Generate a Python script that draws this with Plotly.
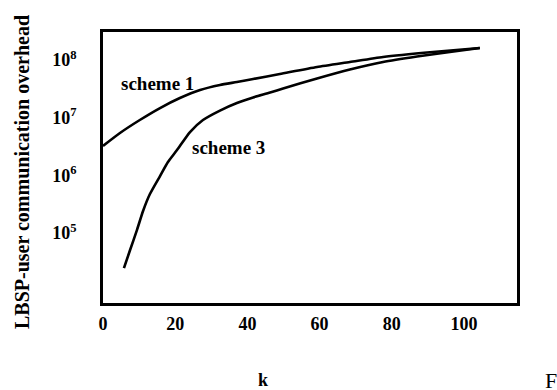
import plotly.graph_objects as go

# Data
k_scheme1 = [0, 4.7, 10.2, 15.8, 21.3, 26.9, 32.4, 37.1, 41.6, 49.0, 59.3, 68.4, 77.6, 91.4, 104.4]
v_scheme1 = [3.24e6, 5.43e6, 9.12e6, 1.47e7, 2.19e7, 3.02e7, 3.69e7, 4.16e7, 4.69e7,
             5.72e7, 7.57e7, 9.23e7, 1.13e8, 1.38e8, 1.61e8]

k_scheme3 = [5.8, 7.5, 9.4, 11.1, 13.0, 15.8, 18.0, 20.5, 24.1, 27.7, 32.4, 37.1, 41.6,
             46.3, 49.9, 59.3, 68.4, 77.6, 87.0, 96.1, 104.4]
v_scheme3 = [2.48e4, 5.1e4, 1.13e5, 2.42e5, 4.76e5, 9.77e5, 1.71e6, 2.75e6, 5.65e6, 9.12e6,
             1.33e7, 1.80e7, 2.24e7, 2.73e7, 3.21e7, 4.78e7, 6.84e7, 9.23e7, 1.15e8, 1.38e8, 1.61e8]

x_ticks = [0, 20, 40, 60, 80, 100]
y_ticks = [1e5, 1e6, 1e7, 1e8]
y_tick_text = ["10<sup>5</sup>", "10<sup>6</sup>", "10<sup>7</sup>", "10<sup>8</sup>"]

serif = "Liberation Serif"
tick_font = dict(family=serif, size=18, color="black", weight="bold")
label_font = dict(family=serif, size=19, color="black", weight="bold")

fig = go.Figure()
fig.add_trace(go.Scatter(x=k_scheme1, y=v_scheme1, mode="lines",
                         line=dict(color="black", width=2.6, shape="spline", smoothing=0.6),
                         name="scheme 1", showlegend=False))
fig.add_trace(go.Scatter(x=k_scheme3, y=v_scheme3, mode="lines",
                         line=dict(color="black", width=2.6, shape="spline", smoothing=0.6),
                         name="scheme 3", showlegend=False))

fig.update_layout(
    width=557, height=390,
    margin=dict(l=103, r=40, t=32, b=87),
    paper_bgcolor="white", plot_bgcolor="white",
    xaxis=dict(range=[0, 114.7], tickvals=x_ticks, showgrid=False, zeroline=False,
               showline=True, linecolor="black", linewidth=2.5, mirror=True,
               ticks="outside", ticklen=3, tickcolor="rgba(0,0,0,0)",
               tickfont=tick_font),
    yaxis=dict(type="log", range=[3.79, 8.485], tickvals=y_ticks, ticktext=y_tick_text,
               showgrid=False, zeroline=False,
               showline=True, linecolor="black", linewidth=2.5, mirror=True,
               ticks="outside", ticklen=20, tickcolor="rgba(0,0,0,0)",
               tickfont=tick_font),
    annotations=[
        dict(text="scheme 1", x=15.2, y=7.60, xref="x", yref="y", showarrow=False,
             font=label_font),
        dict(text="scheme 3", x=34.9, y=6.49, xref="x", yref="y", showarrow=False,
             font=label_font),
        dict(text="k", x=(263 - 103) / 414, y=(303 - 380) / 271, xref="paper", yref="paper",
             xanchor="center", yanchor="middle", showarrow=False, font=tick_font),
        dict(text="LBSP-user communication overhead", x=(22 - 103) / 414, y=(303 - 172) / 271,
             xref="paper", yref="paper", xanchor="center", yanchor="middle",
             showarrow=False, textangle=-90,
             font=dict(family=serif, size=20, color="black", weight="bold")),
        dict(text="F", x=(543 - 103) / 414, y=(303 - 380) / 271, xref="paper", yref="paper",
             xanchor="left", yanchor="middle", showarrow=False,
             font=dict(family=serif, size=22, color="black")),
    ],
)

fig.write_html("out.html", config={"displayModeBar": False},
               post_script="document.body.style.margin='0';document.body.style.overflow='hidden';")
